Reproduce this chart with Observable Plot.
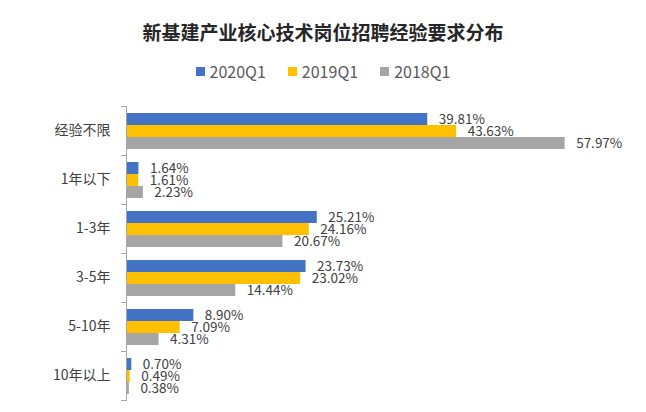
<!DOCTYPE html>
<html><head><meta charset="utf-8">
<script src="https://cdn.jsdelivr.net/npm/d3@7"></script>
<script src="https://cdn.jsdelivr.net/npm/@observablehq/plot@0.6"></script>
<style>
body{margin:0;background:#fff;font-family:"Noto Sans CJK SC","Noto Sans",sans-serif;}
#wrap{width:646px;height:412px;position:relative;overflow:hidden;}
#title{height:52px;box-sizing:border-box;padding-top:20px;text-align:center;font-size:19px;font-weight:bold;color:#262626;line-height:24px;}
#legend{height:38px;display:flex;justify-content:center;align-items:center;gap:0;font-size:16px;color:#595959;}
.li{display:flex;align-items:center;margin:0 11px;}
.sw{width:9px;height:9px;margin-right:5px;}
</style></head>
<body><div id="wrap"><div id="title"></div><div id="legend"></div><div id="chart"></div></div>
<script>
const titleText = "新基建产业核心技术岗位招聘经验要求分布";
const categories = ["经验不限", "1年以下", "1-3年", "3-5年", "5-10年", "10年以上"];
const seriesNames = ["2020Q1", "2019Q1", "2018Q1"];
const seriesColors = ["#4472C4", "#FFC000", "#A5A5A5"];
const v2020 = [39.81, 1.64, 25.21, 23.73, 8.90, 0.70];
const v2019 = [43.63, 1.61, 24.16, 23.02, 7.09, 0.49];
const v2018 = [57.97, 2.23, 20.67, 14.44, 4.31, 0.38];

document.getElementById("title").textContent = titleText;
const leg = document.getElementById("legend");
seriesNames.forEach((s, i) => {
  const d = document.createElement("div"); d.className = "li";
  d.innerHTML = `<span class="sw" style="background:${seriesColors[i]}"></span><span>${s}</span>`;
  leg.appendChild(d);
});

const vals = [v2020, v2019, v2018];
const data = [];
categories.forEach((c, ci) => seriesNames.forEach((s, si) => data.push({cat: c, series: s, value: vals[si][ci]})));

const W = 646, ML = 126, MR = 66;
const chart = Plot.plot({
  width: W, height: 322,
  marginLeft: ML, marginRight: MR, marginTop: 15, marginBottom: 11,
  style: {fontFamily: '"Noto Sans CJK SC","Noto Sans",sans-serif', background: "transparent"},
  x: {domain: [0, 60], axis: null},
  y: {domain: seriesNames, axis: null, paddingInner: 0, paddingOuter: 0.4, align: 0.5},
  fy: {domain: categories, padding: 0, label: null},
  color: {domain: seriesNames, range: seriesColors},
  marks: [
    Plot.axisFy({anchor: "left", tickSize: 0, tickPadding: 16, fontSize: 14, fill: "#404040", label: null}),
    Plot.barX(data, {fy: "cat", y: "series", x: "value", fill: "series"}),
    Plot.text(data, {fy: "cat", y: "series", x: "value", text: d => d.value.toFixed(2) + "%", dx: 11, textAnchor: "start", fontSize: 13.5, fill: "#404040"}),
    Plot.ruleX([0], {stroke: "#a6a6a6"}),
    Plot.frame({anchor: "top", stroke: "#a6a6a6", insetLeft: -5, insetRight: W - ML - MR}),
    Plot.frame({anchor: "bottom", stroke: "#a6a6a6", insetLeft: -5, insetRight: W - ML - MR})
  ]
});
document.getElementById("chart").appendChild(chart);
</script></body></html>
